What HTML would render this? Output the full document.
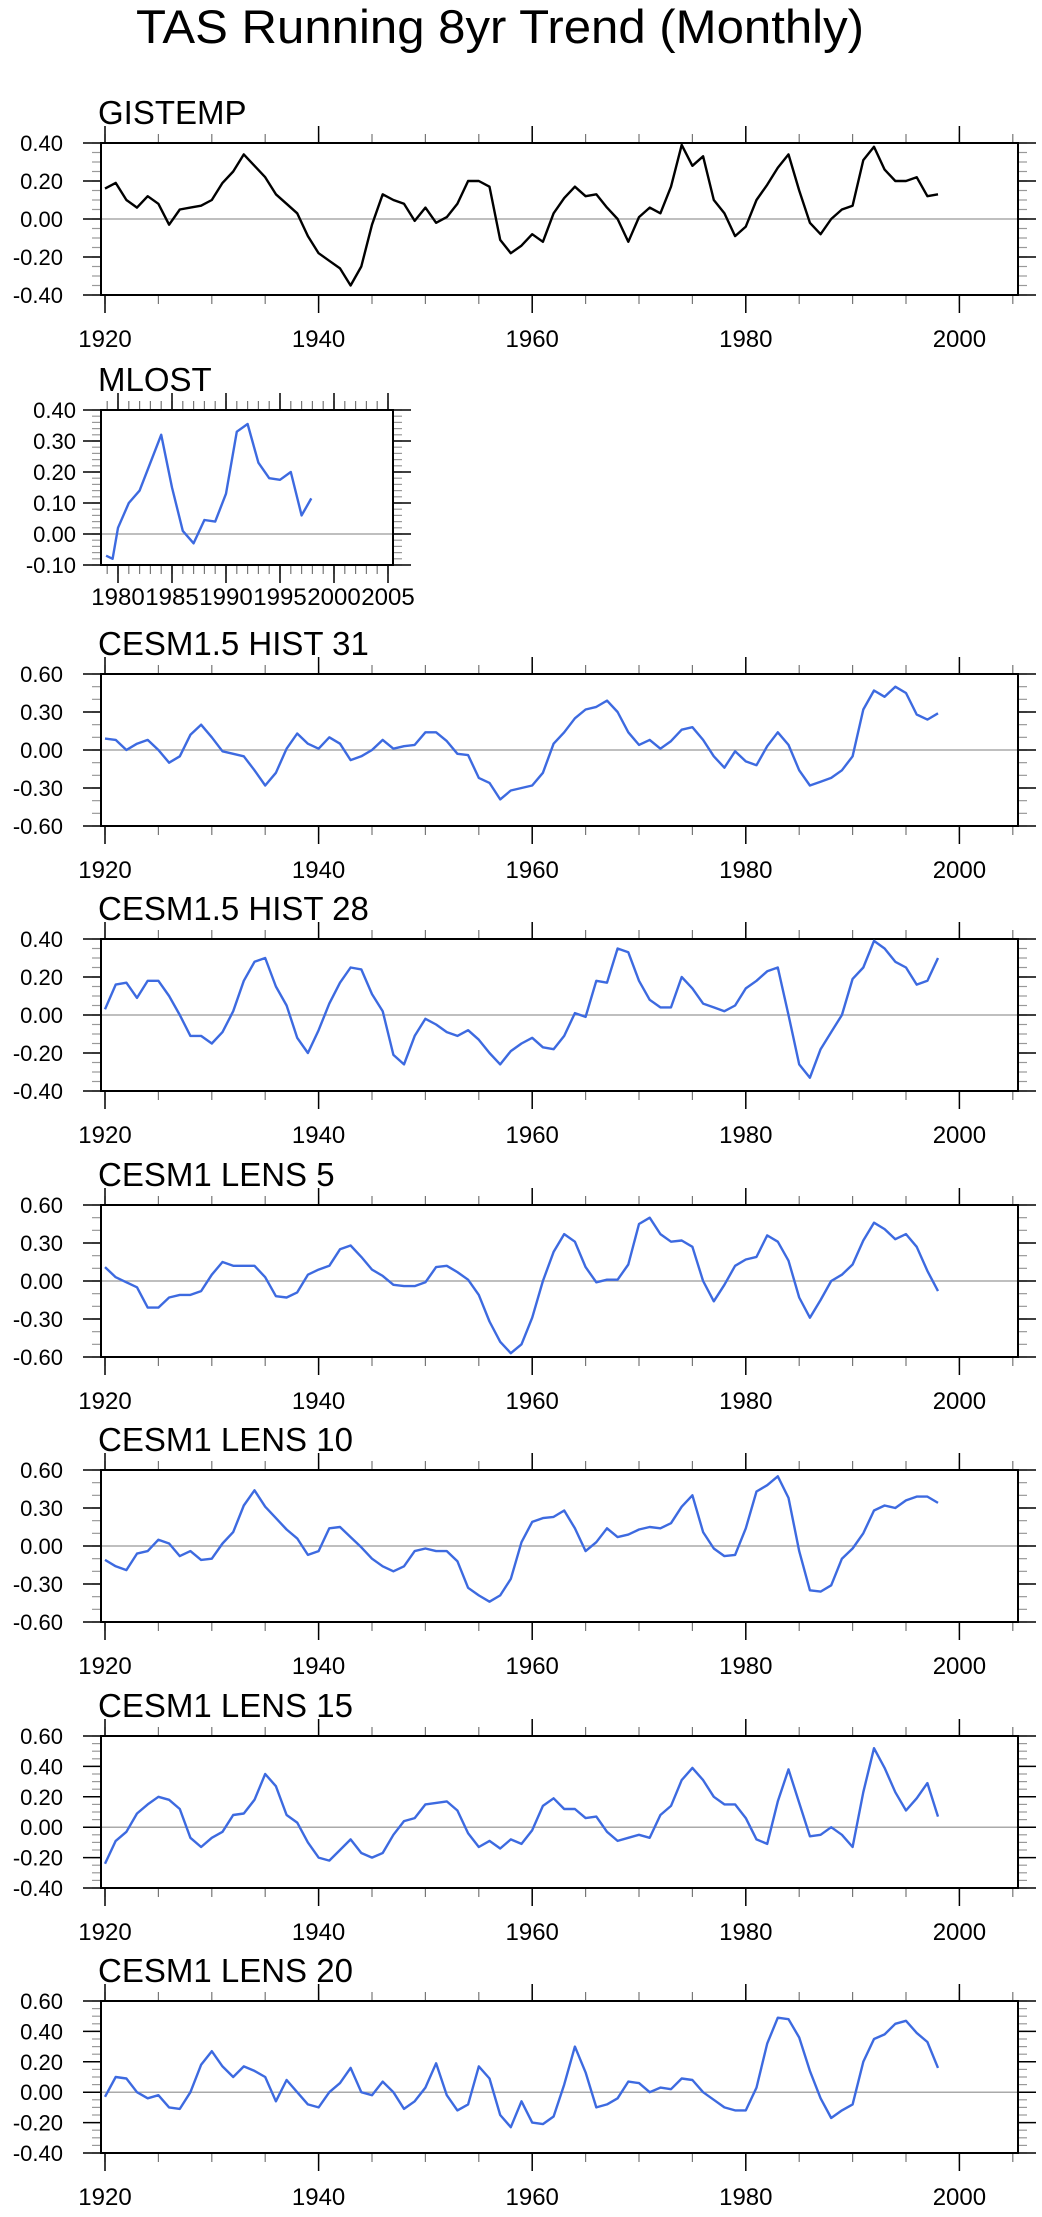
<!DOCTYPE html>
<html><head><meta charset="utf-8"><title>TAS Running 8yr Trend (Monthly)</title>
<style>
html,body{margin:0;padding:0;background:#fff;}
svg{display:block;font-family:"Liberation Sans",Arial,sans-serif;}
</style></head>
<body>
<svg id="chart" width="1042" height="2217" viewBox="0 0 1042 2217" xmlns="http://www.w3.org/2000/svg">
<text x="500" y="43" font-size="47" text-anchor="middle" textLength="728" lengthAdjust="spacingAndGlyphs">TAS Running 8yr Trend (Monthly)</text>
</svg>
<script>
const years = [1920,1921,1922,1923,1924,1925,1926,1927,1928,1929,1930,1931,1932,1933,1934,1935,1936,1937,1938,1939,1940,1941,1942,1943,1944,1945,1946,1947,1948,1949,1950,1951,1952,1953,1954,1955,1956,1957,1958,1959,1960,1961,1962,1963,1964,1965,1966,1967,1968,1969,1970,1971,1972,1973,1974,1975,1976,1977,1978,1979,1980,1981,1982,1983,1984,1985,1986,1987,1988,1989,1990,1991,1992,1993,1994,1995,1996,1997,1998];
const gistemp = [0.16,0.19,0.10,0.06,0.12,0.08,-0.03,0.05,0.06,0.07,0.10,0.19,0.25,0.34,0.28,0.22,0.13,0.08,0.03,-0.09,-0.18,-0.22,-0.26,-0.35,-0.25,-0.03,0.13,0.10,0.08,-0.01,0.06,-0.02,0.01,0.08,0.20,0.20,0.17,-0.11,-0.18,-0.14,-0.08,-0.12,0.03,0.11,0.17,0.12,0.13,0.06,0.00,-0.12,0.01,0.06,0.03,0.17,0.39,0.28,0.33,0.10,0.03,-0.09,-0.04,0.10,0.18,0.27,0.34,0.15,-0.02,-0.08,0.00,0.05,0.07,0.31,0.38,0.26,0.20,0.20,0.22,0.12,0.13];
const mlostYears = [1978.9,1979.5,1980,1981,1982,1983,1984,1985,1986,1987,1988,1989,1990,1991,1992,1993,1994,1995,1996,1997,1997.9];
const mlost = [-0.07,-0.08,0.02,0.10,0.14,0.23,0.32,0.15,0.01,-0.03,0.045,0.04,0.13,0.33,0.355,0.23,0.18,0.175,0.20,0.06,0.115];
const hist31 = [0.09,0.08,0.00,0.05,0.08,0.00,-0.10,-0.05,0.12,0.20,0.10,-0.01,-0.03,-0.05,-0.16,-0.28,-0.18,0.01,0.13,0.05,0.01,0.10,0.05,-0.08,-0.05,0.00,0.08,0.01,0.03,0.04,0.14,0.14,0.07,-0.03,-0.04,-0.22,-0.26,-0.39,-0.32,-0.30,-0.28,-0.18,0.05,0.14,0.25,0.32,0.34,0.39,0.30,0.14,0.04,0.08,0.01,0.07,0.16,0.18,0.08,-0.05,-0.14,-0.01,-0.09,-0.12,0.03,0.14,0.04,-0.16,-0.28,-0.25,-0.22,-0.16,-0.05,0.32,0.47,0.42,0.50,0.45,0.28,0.24,0.29];
const hist28 = [0.03,0.16,0.17,0.09,0.18,0.18,0.10,0.00,-0.11,-0.11,-0.15,-0.09,0.02,0.18,0.28,0.30,0.15,0.05,-0.12,-0.20,-0.08,0.06,0.17,0.25,0.24,0.11,0.02,-0.21,-0.26,-0.11,-0.02,-0.05,-0.09,-0.11,-0.08,-0.13,-0.20,-0.26,-0.19,-0.15,-0.12,-0.17,-0.18,-0.11,0.01,-0.01,0.18,0.17,0.35,0.33,0.18,0.08,0.04,0.04,0.20,0.14,0.06,0.04,0.02,0.05,0.14,0.18,0.23,0.25,0.00,-0.26,-0.33,-0.18,-0.09,0.00,0.19,0.25,0.39,0.35,0.28,0.25,0.16,0.18,0.30];
const lens5 = [0.11,0.03,-0.01,-0.05,-0.21,-0.21,-0.13,-0.11,-0.11,-0.08,0.05,0.15,0.12,0.12,0.12,0.03,-0.12,-0.13,-0.09,0.05,0.09,0.12,0.25,0.28,0.19,0.09,0.04,-0.03,-0.04,-0.04,-0.01,0.11,0.12,0.07,0.01,-0.11,-0.32,-0.48,-0.57,-0.50,-0.29,0.00,0.23,0.37,0.31,0.11,-0.01,0.01,0.01,0.13,0.45,0.50,0.37,0.31,0.32,0.27,0.00,-0.16,-0.03,0.12,0.17,0.19,0.36,0.31,0.16,-0.13,-0.29,-0.15,0.00,0.05,0.13,0.32,0.46,0.41,0.33,0.37,0.27,0.08,-0.08];
const lens10 = [-0.11,-0.16,-0.19,-0.06,-0.04,0.05,0.02,-0.08,-0.04,-0.11,-0.10,0.02,0.11,0.32,0.44,0.31,0.22,0.13,0.06,-0.07,-0.04,0.14,0.15,0.07,-0.01,-0.10,-0.16,-0.20,-0.16,-0.04,-0.02,-0.04,-0.04,-0.12,-0.33,-0.39,-0.44,-0.39,-0.26,0.03,0.19,0.22,0.23,0.28,0.14,-0.04,0.03,0.14,0.07,0.09,0.13,0.15,0.14,0.18,0.31,0.40,0.11,-0.02,-0.08,-0.07,0.14,0.43,0.48,0.55,0.38,-0.04,-0.35,-0.36,-0.31,-0.10,-0.02,0.10,0.28,0.32,0.30,0.36,0.39,0.39,0.34];
const lens15 = [-0.24,-0.09,-0.03,0.09,0.15,0.20,0.18,0.12,-0.07,-0.13,-0.07,-0.03,0.08,0.09,0.18,0.35,0.27,0.08,0.03,-0.10,-0.20,-0.22,-0.15,-0.08,-0.17,-0.20,-0.17,-0.05,0.04,0.06,0.15,0.16,0.17,0.11,-0.04,-0.13,-0.09,-0.14,-0.08,-0.11,-0.02,0.14,0.19,0.12,0.12,0.06,0.07,-0.03,-0.09,-0.07,-0.05,-0.07,0.08,0.14,0.31,0.39,0.31,0.20,0.15,0.15,0.06,-0.08,-0.11,0.17,0.38,0.16,-0.06,-0.05,0.00,-0.05,-0.13,0.23,0.52,0.39,0.23,0.11,0.19,0.29,0.07];
const lens20 = [-0.03,0.10,0.09,0.00,-0.04,-0.02,-0.10,-0.11,0.00,0.18,0.27,0.17,0.10,0.17,0.14,0.10,-0.06,0.08,0.00,-0.08,-0.10,0.00,0.06,0.16,0.00,-0.02,0.07,0.00,-0.11,-0.06,0.03,0.19,-0.02,-0.12,-0.08,0.17,0.09,-0.15,-0.23,-0.06,-0.20,-0.21,-0.16,0.05,0.30,0.13,-0.10,-0.08,-0.04,0.07,0.06,0.00,0.03,0.02,0.09,0.08,0.00,-0.05,-0.10,-0.12,-0.12,0.03,0.32,0.49,0.48,0.36,0.14,-0.04,-0.17,-0.12,-0.08,0.20,0.35,0.38,0.45,0.47,0.39,0.33,0.16];

const xTickYears = [1920,1940,1960,1980,2000];
const mlostTickYears = [1980,1985,1990,1995,2000,2005];
const ticks04 = [-0.4,-0.2,0,0.2,0.4];
const ticks06 = [-0.6,-0.3,0,0.3,0.6];
const ticks0406 = [-0.4,-0.2,0,0.2,0.4,0.6];
const ticksMlost = [-0.1,0,0.1,0.2,0.3,0.4];

const NS = 'http://www.w3.org/2000/svg';
const svg = document.getElementById('chart');
function mk(tag, attrs, parent){
  const e = document.createElementNS(NS, tag);
  for (const k in attrs) e.setAttribute(k, attrs[k]);
  (parent||svg).appendChild(e);
  return e;
}

function drawPanel(p){
  const g = mk('g', {});
  
  
  const L = p.left, R = p.right, T = p.top, B = p.top + p.h;
  const xs = yr => p.x0 + (yr - p.yr0) * p.pxPerYr;
  const ys = v => B - (v - p.yMin) / (p.yMax - p.yMin) * (B - T);

  const title = mk('text', {x: 98, y: T - 19, 'font-size': 33}, g);
  
  
  title.textContent = p.label;

  const zl = mk('line', {x1: L, x2: R, y1: ys(0), y2: ys(0), stroke: '#aaa', 'stroke-width': 1.5}, g);
  
  

  const yMinorG = mk('g', {stroke: '#999', 'stroke-width': 1.2}, g);
  
  
  const nMin = Math.round((p.yMax - p.yMin) / p.minor);
  for (let i = 0; i <= nMin; i++){
    const y = ys(p.yMin + i * p.minor);
    mk('line', {x1: L - 9, x2: L, y1: y, y2: y}, yMinorG);
    mk('line', {x1: R, x2: R + 9, y1: y, y2: y}, yMinorG);
  }
  const yAx = mk('g', {}, g);
  
  
  p.yTicks.forEach(v => {
    const y = ys(v);
    mk('line', {x1: L - 18, x2: L, y1: y, y2: y, stroke: '#000', 'stroke-width': 1.5}, yAx);
    mk('line', {x1: R, x2: R + 18, y1: y, y2: y, stroke: '#000', 'stroke-width': 1.5}, yAx);
    const t = mk('text', {x: p.labelRight, y: y + 8, 'font-size': 22, 'text-anchor': 'end'}, yAx);
    
    
    t.textContent = v.toFixed(2);
  });
  const xAx = mk('g', {}, g);
  
  
  for (let yr = p.minorStart; xs(yr) <= R + 1; yr += p.minorStep){
    const x = xs(yr);
    mk('line', {x1: x, x2: x, y1: T - 9, y2: T, stroke: '#777', 'stroke-width': 1.2}, xAx);
    mk('line', {x1: x, x2: x, y1: B, y2: B + 9, stroke: '#777', 'stroke-width': 1.2}, xAx);
  }
  p.xTicks.forEach(yr => {
    const x = xs(yr);
    mk('line', {x1: x, x2: x, y1: T - 17, y2: T, stroke: '#000', 'stroke-width': 1.5}, xAx);
    mk('line', {x1: x, x2: x, y1: B, y2: B + 18, stroke: '#000', 'stroke-width': 1.5}, xAx);
    const t = mk('text', {x: x, y: B + p.xLabOff, 'font-size': 24, 'text-anchor': 'middle'}, xAx);
    
    
    t.textContent = String(yr);
  });
  const fr = mk('rect', {x: L, y: T, width: R - L, height: B - T, fill: 'none', stroke: '#000', 'stroke-width': 2}, g);
  
  
  const d = p.xv.map((yr, i) => (i ? 'L' : 'M') + xs(yr).toFixed(1) + ',' + ys(p.values[i]).toFixed(1)).join(' ');
  const line = mk('path', {d: d, fill: 'none', stroke: p.color, 'stroke-width': 2.4, 'stroke-linejoin': 'round'}, g);
  
  
}

const full = {left: 101, right: 1018, h: 152, x0: 105, yr0: 1920, pxPerYr: 10.68, xTicks: xTickYears, minorStart: 1920, minorStep: 5, labelRight: 63, xLabOff: 52, xv: years};
const blue = '#3d6ae0';
drawPanel(Object.assign({}, full, {id: 'gistemp', label: 'GISTEMP', top: 143, yMin: -0.4, yMax: 0.4, yTicks: ticks04, minor: 0.05, values: gistemp, color: '#000'}));
drawPanel({id: 'mlost', label: 'MLOST', left: 101, right: 393, h: 155, top: 410, x0: 118, yr0: 1980, pxPerYr: 10.8, xTicks: mlostTickYears, minorStart: 1979, minorStep: 1, labelRight: 76, xLabOff: 40, yMin: -0.1, yMax: 0.4, yTicks: ticksMlost, minor: 0.02, xv: mlostYears, values: mlost, color: blue});
drawPanel(Object.assign({}, full, {id: 'hist31', label: 'CESM1.5 HIST 31', top: 674, yMin: -0.6, yMax: 0.6, yTicks: ticks06, minor: 0.1, values: hist31, color: blue}));
drawPanel(Object.assign({}, full, {id: 'hist28', label: 'CESM1.5 HIST 28', top: 939, yMin: -0.4, yMax: 0.4, yTicks: ticks04, minor: 0.05, values: hist28, color: blue}));
drawPanel(Object.assign({}, full, {id: 'lens5', label: 'CESM1 LENS 5', top: 1205, yMin: -0.6, yMax: 0.6, yTicks: ticks06, minor: 0.1, values: lens5, color: blue}));
drawPanel(Object.assign({}, full, {id: 'lens10', label: 'CESM1 LENS 10', top: 1470, yMin: -0.6, yMax: 0.6, yTicks: ticks06, minor: 0.1, values: lens10, color: blue}));
drawPanel(Object.assign({}, full, {id: 'lens15', label: 'CESM1 LENS 15', top: 1736, yMin: -0.4, yMax: 0.6, yTicks: ticks0406, minor: 0.05, values: lens15, color: blue}));
drawPanel(Object.assign({}, full, {id: 'lens20', label: 'CESM1 LENS 20', top: 2001, yMin: -0.4, yMax: 0.6, yTicks: ticks0406, minor: 0.05, values: lens20, color: blue}));
</script>
</body></html>
